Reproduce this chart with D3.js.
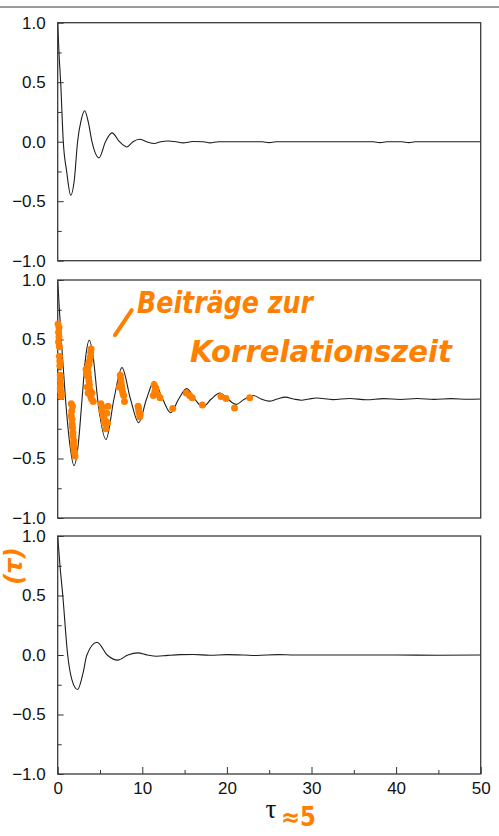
<!DOCTYPE html>
<html>
<head>
<meta charset="utf-8">
<script src="https://cdn.jsdelivr.net/npm/d3@7"></script>
<style>
    body { margin: 0; background: #fff; }
</style>
</head>
<body>
<div id="chart"></div>
<script>
// tick values
const xTicks = [0, 10, 20, 30, 40, 50]
const xMinorTicks = [5, 15, 25, 35, 45]
const yTicks = [-1.0, -0.5, 0.0, 0.5, 1.0]
const yMinorTicks = [-0.75, -0.25, 0.25, 0.75]

// panel 1 (top)
const tau1 = [0, 0.15, 0.35, 0.66, 1.06, 1.54, 1.95, 2.35, 2.8, 3.19, 3.6, 4.05, 4.88, 5.65, 6.42, 7.3, 8.16, 8.9, 9.65, 10.5, 11.4, 12.2, 13.0, 14.0, 14.8, 16.0, 17.2, 18.0, 19.0, 22.0, 24.2, 25.0, 25.8, 30.0, 37.3, 38.1, 38.9, 40.7, 41.5, 42.3, 46.0, 50.0]
const acf1 = [1.0, 0.75, 0.5, 0.0, -0.25, -0.45, -0.33, 0.0, 0.19, 0.26, 0.17, 0.0, -0.136, 0.0, 0.074, 0.0, -0.044, 0.0, 0.021, 0.0, -0.015, 0.0, 0.006, 0.0, -0.01, 0.002, 0.0, -0.01, 0.0, 0.0, 0.0, -0.008, 0.0, 0.0, 0.0, -0.008, 0.0, 0.0, -0.008, 0.0, 0.0, 0.0]

// panel 2 (middle)
const tau2 = [0, 0.2, 0.42, 0.92, 1.43, 1.93, 2.43, 2.88, 3.3, 3.74, 4.2, 4.72, 5.71, 6.65, 7.6, 8.6, 9.57, 10.5, 11.38, 12.4, 13.36, 14.3, 15.25, 16.2, 17.14, 18.15, 19.18, 20.1, 21.08, 22.1, 23.1, 24.05, 25.0, 25.95, 26.9, 27.9, 28.8, 29.7, 30.6, 32.5, 34.5, 36.5, 38.5, 40.5, 42.5, 44.5, 46.5, 48.5, 50.0]
const acf2 = [1.0, 0.75, 0.5, 0.0, -0.38, -0.56, -0.38, 0.0, 0.35, 0.494, 0.35, 0.0, -0.34, 0.0, 0.264, 0.0, -0.2, 0.0, 0.146, 0.0, -0.116, 0.0, 0.087, 0.0, -0.068, 0.0, 0.05, 0.0, -0.045, 0.0, 0.03, 0.0, -0.018, 0.0, 0.016, 0.0, -0.01, 0.0, 0.008, -0.005, 0.004, -0.006, 0.003, -0.004, 0.004, -0.003, 0.003, -0.002, 0.0]

// panel 3 (bottom)
const tau3 = [0, 0.27, 0.6, 1.18, 1.65, 2.35, 3.0, 3.45, 4.65, 5.85, 7.1, 8.3, 9.45, 10.6, 11.7, 13.0, 14.5, 16.0, 18.0, 20.0, 22.0, 23.5, 26.0, 28.0, 30.0, 35.0, 40.0, 45.0, 50.0]
const acf3 = [1.0, 0.75, 0.5, 0.0, -0.2, -0.29, -0.15, 0.0, 0.107, 0.0, -0.043, 0.0, 0.018, 0.0, -0.01, -0.003, 0.003, 0.004, -0.002, 0.003, 0.0, -0.004, 0.003, 0.0, 0.0, 0.0, 0.0, -0.002, 0.0]

// handwritten orange marks on panel 2
const markTau = [0.15, 0.15, 0.2, 0.2, 0.25, 0.3, 0.35, 0.35, 0.4, 0.1, 0.05, 0.1, 0.25, 0.3, 0.3, 0.45,
    1.6, 1.65, 1.7, 1.75, 1.8, 1.85, 1.95, 2.05, 1.75, 1.6, 1.7, 1.8, 1.9, 1.9, 2.0,
    3.95, 3.85, 3.7, 3.6, 3.7, 3.8, 3.9, 4.2, 3.35, 3.5, 4.05, 3.9, 3.75, 3.55, 3.65, 3.75, 4.0, 3.45, 3.6,
    5.1, 5.2, 5.4, 5.5, 5.7, 5.95, 5.8, 5.3, 5.6, 5.5, 5.9,
    7.4, 7.5, 7.6, 7.8, 7.9, 7.3, 7.45, 7.7, 7.55,
    9.5, 9.6, 9.7, 9.55, 9.75,
    11.4, 11.5, 11.8, 11.3, 12.1, 11.6, 11.5,
    13.6, 15.2, 15.6, 15.9, 17.1, 19.3, 19.9, 20.9, 22.7]
const markVal = [0.6, 0.52, 0.44, 0.36, 0.28, 0.2, 0.12, 0.06, 0.02, 0.56, 0.63, 0.48, 0.32, 0.16, 0.09, 0.04,
    -0.04, -0.1, -0.17, -0.24, -0.31, -0.38, -0.44, -0.48, -0.06, -0.14, -0.21, -0.28, -0.35, -0.41, -0.45,
    0.42, 0.35, 0.29, 0.22, 0.15, 0.08, 0.02, -0.02, 0.25, 0.1, 0.05, 0.39, 0.32, 0.26, 0.18, 0.12, 0.0, 0.2, 0.05,
    -0.04, -0.1, -0.15, -0.2, -0.25, -0.06, -0.12, -0.07, -0.18, -0.12, -0.2,
    0.2, 0.14, 0.08, 0.03, -0.02, 0.1, 0.17, 0.05, 0.11,
    -0.06, -0.11, -0.15, -0.08, -0.13,
    0.12, 0.07, 0.04, 0.03, 0.01, 0.09, 0.05,
    -0.08, 0.05, 0.03, 0.01, -0.05, 0.02, 0.005, -0.075, 0.01]

const noteLine1 = "Beiträge zur"
const noteLine2 = "Korrelationszeit"

let dimensions = {
    width: 499,
    height: 836,
    margin: {left: 57.7, right: 18.3},
    panelTops: [22.7, 280, 536],
    panelHeight: 238,
}

const wrapper = d3.select("#chart")
    .append("svg")
    .attr("width", dimensions.width)
    .attr("height", dimensions.height)
    .style("font-family", "'Liberation Sans', Arial, sans-serif")

// grey rule at the very top
wrapper.append("line")
    .attr("x1", 0).attr("x2", dimensions.width)
    .attr("y1", 7).attr("y2", 7)
    .attr("stroke", "#7a7a7a")
    .attr("stroke-width", 1.5)

const xScale = d3.scaleLinear()
    .domain([0, 50])
    .range([dimensions.margin.left, dimensions.width - dimensions.margin.right])

const panels = [
    {tau: tau1, acf: acf1},
    {tau: tau2, acf: acf2},
    {tau: tau3, acf: acf3},
]

const yScales = []

panels.forEach((panel, i) => {
    const top = dimensions.panelTops[i]
    const yScale = d3.scaleLinear()
        .domain([-1, 1])
        .range([top + dimensions.panelHeight, top])
    yScales.push(yScale)
    const bounds = wrapper.append("g")

    // minor y ticks
    bounds.append("g")
        .attr("transform", "translate(" + dimensions.margin.left + ",0)")
        .call(d3.axisLeft(yScale).tickValues(yMinorTicks).tickSizeInner(-4).tickSizeOuter(0).tickFormat(""))
        .call(g => g.select(".domain").remove())
        .call(g => g.selectAll("line").attr("stroke", "#333"))

    // major y ticks
    bounds.append("g")
        .attr("transform", "translate(" + dimensions.margin.left + ",0)")
        .call(d3.axisLeft(yScale).tickValues(yTicks).tickSizeInner(-6).tickSizeOuter(0).tickPadding(12).tickFormat(d3.format(".1f")))
        .call(g => g.select(".domain").remove())
        .call(g => g.selectAll("line").attr("stroke", "#333"))
        .call(g => g.selectAll("text")
            .attr("fill", "#111")
            .style("font-size", "17px")
            .style("font-family", "'Liberation Sans', Arial, sans-serif"))

    if (i === 2) {
        const xAxisY = top + dimensions.panelHeight
        bounds.append("g")
            .attr("transform", "translate(0," + xAxisY + ")")
            .call(d3.axisBottom(xScale).tickValues(xMinorTicks).tickSizeInner(-4).tickSizeOuter(0).tickFormat(""))
            .call(g => g.select(".domain").remove())
            .call(g => g.selectAll("line").attr("stroke", "#333"))
        bounds.append("g")
            .attr("transform", "translate(0," + xAxisY + ")")
            .call(d3.axisBottom(xScale).tickValues(xTicks).tickSizeInner(-7).tickSizeOuter(0).tickPadding(8).tickFormat(d3.format("d")))
            .call(g => g.select(".domain").remove())
            .call(g => g.selectAll("line").attr("stroke", "#333"))
            .call(g => g.selectAll("text")
                .attr("fill", "#111")
                .style("font-size", "17px")
                .style("font-family", "'Liberation Sans', Arial, sans-serif"))
    }

    const lineGenerator = d3.line()
        .x((d, j) => xScale(panel.tau[j]))
        .y(d => yScale(d))
        .curve(d3.curveMonotoneX)

    bounds.append("path")
        .attr("d", lineGenerator(panel.acf))
        .attr("fill", "none")
        .attr("stroke", "#1c1c1c")
        .attr("stroke-width", 1.1)

    // frame
    bounds.append("rect")
        .attr("x", xScale(0))
        .attr("y", yScale(1))
        .attr("width", xScale(50) - xScale(0))
        .attr("height", yScale(-1) - yScale(1))
        .attr("fill", "none")
        .attr("stroke", "#3a3a3a")
        .attr("stroke-width", 1.3)
})

// orange annotations on the middle panel
const orange = "#ff8000"
const y2 = yScales[1]

wrapper.append("g")
    .selectAll("circle")
    .data(markVal)
    .join("circle")
    .attr("cx", (d, j) => xScale(markTau[j]))
    .attr("cy", d => y2(d))
    .attr("r", 3.5)
    .attr("fill", orange)

wrapper.append("line")
    .attr("x1", xScale(6.77)).attr("y1", y2(0.536))
    .attr("x2", xScale(8.75)).attr("y2", y2(0.747))
    .attr("stroke", orange)
    .attr("stroke-width", 4)
    .attr("stroke-linecap", "round")

wrapper.append("text")
    .attr("x", xScale(9.37))
    .attr("y", y2(0.72))
    .attr("fill", orange)
    .attr("textLength", 176)
    .attr("lengthAdjust", "spacingAndGlyphs")
    .style("font-family", "'DejaVu Sans', sans-serif")
    .style("font-style", "italic")
    .style("font-weight", "bold")
    .style("font-size", "30px")
    .text(noteLine1)

wrapper.append("text")
    .attr("x", xScale(15.64))
    .attr("y", y2(0.31))
    .attr("fill", orange)
    .attr("textLength", 262)
    .attr("lengthAdjust", "spacingAndGlyphs")
    .style("font-family", "'DejaVu Sans', sans-serif")
    .style("font-style", "italic")
    .style("font-weight", "bold")
    .style("font-size", "31px")
    .text(noteLine2)

// rotated handwritten y label at the left edge
wrapper.append("text")
    .attr("transform", "translate(22,566) rotate(-90)")
    .attr("text-anchor", "middle")
    .attr("fill", orange)
    .style("font-family", "'DejaVu Sans', sans-serif")
    .style("font-style", "italic")
    .style("font-weight", "bold")
    .style("font-size", "24px")
    .text("(τ)")

// x label
wrapper.append("text")
    .attr("x", 271)
    .attr("y", 818)
    .attr("text-anchor", "middle")
    .attr("fill", "#111")
    .style("font-family", "'Liberation Serif', serif")
    .style("font-size", "27px")
    .text("τ")

wrapper.append("text")
    .attr("x", 281)
    .attr("y", 826)
    .attr("fill", orange)
    .attr("textLength", 35)
    .attr("lengthAdjust", "spacingAndGlyphs")
    .style("font-family", "'DejaVu Sans', sans-serif")
    .style("font-weight", "bold")
    .style("font-size", "26px")
    .text("≈5")
</script>
</body>
</html>
